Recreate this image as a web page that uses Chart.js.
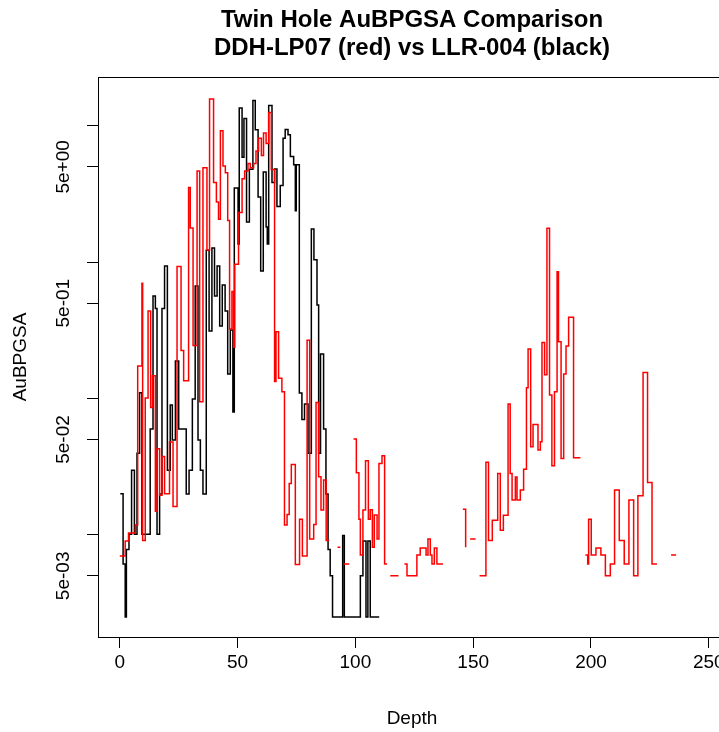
<!DOCTYPE html>
<html><head><meta charset="utf-8">
<script src="https://cdn.jsdelivr.net/npm/chart.js@4.4.1/dist/chart.umd.min.js"></script>
<style>html,body{margin:0;padding:0;overflow:hidden;background:#fff}</style>
</head><body>
<canvas id="c" width="740" height="732"></canvas>
<script>
// DDH-LP07 (red)
const redDepth = [
  0.0, 2.3, 3.7, 6.6, 7.6, 9.4, 9.7, 10.8, 12.0, 13.1, 13.9, 15.1, 15.8, 16.9, 17.9, 19.0, 21.1, 22.6, 24.3, 26.0,
  27.1, 29.2, 29.9, 31.1, 32.8, 33.9, 35.3, 37.0, 38.1, 39.8, 41.0, 41.9, 42.7, 43.8, 44.8, 45.8, 46.6, 47.6, 48.3, 48.8,
  50.4, 51.9, 53.0, 54.4, 55.4, 56.8, 57.8, 58.9, 60.1, 61.0, 62.1, 63.2, 64.3, 65.7, 66.3, 67.4, 68.8, 69.9, 71.0, 71.9,
  72.8, 74.5, 76.3, 77.5, 79.5, 80.6, 82.3, 83.3, 84.4, 85.4, 86.5, 87.6, 88.9,
  90.5,
  92.4, 93.6, 94.3,
  95.0, 97.4, 98.3,
  99.2, 100.4, 101.5, 102.1, 103.2, 104.3, 105.5, 106.3, 107.2, 108.0, 109.2, 110.0, 111.3, 112.4, 113.4, 114.1,
  114.8, 118.3, 119.5,
  120.8, 121.9, 126.1, 127.5, 130.0, 130.8, 131.8, 132.5, 133.5, 134.6, 137.2, 141.0,
  145.6, 146.8, 147.8,
  148.7, 151.0, 151.9,
  152.7, 155.4, 156.5, 158.1, 160.4, 161.5, 162.8, 164.8, 165.7, 166.5, 167.9, 168.6, 170.0, 171.4, 172.6, 173.3,
  174.4, 175.4, 177.5, 178.5, 179.2, 180.3, 181.3, 182.4, 183.4, 184.5, 185.6, 186.2, 187.3, 188.4, 189.4, 190.5,
  192.6, 195.5, 196.5,
  197.6, 198.6, 199.0, 200.1, 202.1, 204.2, 206.1, 208.2, 210.0, 212.0, 214.1, 216.1, 218.1, 219.9, 222.1, 224.0,
  225.9, 228.0, 231.0,
  234.0, 236.1
];
const redAu = [
  0.0070, 0.0090, 0.0103, 0.0118, 0.173, 0.70, 0.0091, 0.101, 0.439, 0.086, 0.147, 0.0149, 0.0427, 0.0195, 0.0375, 0.0200, 0.0479, 0.0161, 0.927, 0.225,
  0.135, 3.52, 1.78, 0.245, 4.66, 0.0947, 4.93, 1.23, 15.7, 3.84, 2.76, 2.06, 9.2, 5.08, 4.52, 2.02, 0.323, 0.61, 0.238, 0.965,
  2.31, 4.09, 4.66, 5.29, 4.93, 5.29, 6.53, 8.11, 6.05, 8.84, 7.42, 12.5, 4.79, 0.133, 0.309, 0.141, 0.112, 0.0118, 0.0141, 0.0238,
  0.0328, 0.00605, 0.0130, 0.0070, 0.267, 0.0093, 0.0119, 0.0933, 0.0267, 0.0152, 0.0252, 0.0091, 0.0091,
  null,
  0.0081, 0.0081, null,
  0.0061, 0.0061, null,
  0.0504, 0.0285, 0.0130, 0.0071, 0.0152, 0.0349, 0.0130, 0.0153, 0.0081, 0.0140, 0.0093, 0.0334, 0.038, 0.0061, 0.0061, null,
  0.0050, 0.0050, null,
  0.0061, 0.0050, 0.0071, 0.0080, 0.0071, 0.0093, 0.0071, 0.0061, 0.0080, 0.0061, 0.0061, null,
  0.0154, 0.0081, null,
  0.0093, 0.0093, null,
  0.0050, 0.034, 0.0091, 0.0128, 0.0282, 0.0108, 0.0139, 0.091, 0.0282, 0.0180, 0.0266, 0.0180, 0.0213, 0.0302, 0.120, 0.231,
  0.0442, 0.0645, 0.0418, 0.0481, 0.257, 0.149, 1.77, 0.106, 0.0321, 0.112, 0.851, 0.261, 0.0363, 0.151, 0.243, 0.394,
  0.0367, 0.0367, null,
  0.0071, 0.0061, 0.0130, 0.0071, 0.0080, 0.0071, 0.0050, 0.0061, 0.0213, 0.0091, 0.0061, 0.0180, 0.0050, 0.0193, 0.155, 0.0242,
  0.0061, 0.0061, null,
  0.0071, 0.0071
];

// LLR-004 (black)
const blackDepth = [
  0.2, 1.4, 2.3, 2.8, 3.9, 5.0, 6.2, 7.3, 8.4, 9.4, 12.9, 14.1, 15.1, 15.8, 16.9, 17.9, 19.0, 20.2, 21.4, 22.3,
  23.6, 25.0, 28.2, 29.4, 30.8, 32.0, 33.2, 34.2, 35.3, 36.7, 37.9, 39.1, 40.2, 41.3, 42.4, 43.5, 44.7, 45.8, 46.9, 48.0,
  48.6, 50.2, 50.7, 51.9, 52.7, 53.8, 55.0, 56.5, 57.5, 58.7, 59.8, 60.9, 62.1, 62.6, 63.2, 64.6, 65.7, 66.7, 68.1, 69.3,
  70.2, 71.4, 72.4, 73.8, 74.5, 74.9, 76.2, 77.3, 78.4, 79.9, 81.3, 82.4, 83.7, 84.4, 85.2, 86.5, 87.5, 88.4, 89.3, 90.3,
  94.6, 95.3, 102.1, 103.2, 104.5, 105.3, 106.3, 110.1
];
const blackAu = [
  0.020, 0.0061, 0.0025, 0.0078, 0.0101, 0.0298, 0.0101, 0.0397, 0.110, 0.0101, 0.0596, 0.565, 0.457, 0.0101, 0.0199, 0.457, 0.938, 0.0298, 0.0895, 0.0495,
  0.188, 0.0596, 0.0199, 0.0298, 0.099, 0.668, 0.0495, 0.0298, 0.0199, 1.22, 0.313, 1.27, 0.565, 0.938, 0.340, 0.680, 0.438, 0.151, 0.318, 0.0795,
  3.5, 1.36, 13.5, 5.88, 11.3, 1.97, 4.8, 15.3, 9.35, 3.01, 0.861, 4.59, 1.81, 1.36, 14.1, 3.84, 4.83, 2.56, 3.65, 8.11,
  9.38, 8.59, 5.95, 5.17, 2.38, 5.17, 0.1096, 0.070, 0.091, 0.0397, 1.75, 1.04, 0.485, 0.0397, 0.212, 0.0596, 0.0199, 0.0078, 0.005, 0.0025,
  0.0099, 0.0025, 0.005, 0.0090, 0.0025, 0.0090, 0.0025, 0.0025
];

const xTickValues = [0, 50, 100, 150, 200, 250];
const yTickValues = [10, 5, 1, 0.5, 0.1, 0.05, 0.01, 0.005];
const yTickText = {5: '5e+00', 0.5: '5e-01', 0.05: '5e-02', 0.005: '5e-03'};
const titleLines = ['Twin Hole AuBPGSA Comparison', 'DDH-LP07 (red) vs LLR-004 (black)'];

function toPoints(d, v) { return d.map((x, i) => ({x: x, y: v[i]})); }

const FONT = "'Liberation Sans', Arial, sans-serif";
Chart.defaults.font.family = FONT;
Chart.defaults.color = '#000';

const boxPlugin = {
  id: 'box',
  afterDraw(chart) {
    const a = chart.chartArea, ctx = chart.ctx;
    ctx.save();
    ctx.strokeStyle = '#000';
    ctx.lineWidth = 1;
    ctx.strokeRect(Math.round(a.left) + 0.5, Math.round(a.top) + 0.5,
      Math.round(a.right - a.left), Math.round(a.bottom - a.top));
    ctx.restore();
  }
};

new Chart(document.getElementById('c'), {
  type: 'line',
  data: {
    datasets: [
      {label: 'DDH-LP07', data: toPoints(redDepth, redAu), borderColor: '#ff0000', borderWidth: 1.5,
       stepped: true, pointRadius: 0, spanGaps: false, fill: false},
      {label: 'LLR-004', data: toPoints(blackDepth, blackAu), borderColor: '#000000', borderWidth: 1.5,
       stepped: true, pointRadius: 0, spanGaps: false, fill: false}
    ]
  },
  options: {
    responsive: false,
    animation: false,
    layout: {padding: {left: 0, right: 14, top: 0, bottom: 0}},
    plugins: {
      legend: {display: false},
      tooltip: {enabled: false},
      title: {display: true, fullSize: false, text: titleLines, color: '#000',
        font: {size: 24, weight: 'bold', lineHeight: '28px'}, padding: {top: 6, bottom: 15}}
    },
    scales: {
      x: {
        type: 'linear', min: -9.25, max: 257.3,
        afterBuildTicks(s) { s.ticks = xTickValues.map(v => ({value: v})); },
        afterFit(s) { s.height = 95; },
        border: {display: false},
        grid: {drawOnChartArea: false, drawTicks: true, tickLength: 11, color: '#000', lineWidth: 1},
        ticks: {font: {size: 19}, color: '#000', padding: 3, maxRotation: 0, autoSkip: false},
        title: {display: true, text: 'Depth', font: {size: 19}, color: '#000', padding: {top: 0, bottom: 2}}
      },
      y: {
        type: 'logarithmic', min: 0.00178, max: 22.8,
        afterBuildTicks(s) { s.ticks = yTickValues.map(v => ({value: v})); },
        afterFit(s) { s.width = 98; },
        border: {display: false},
        grid: {drawOnChartArea: false, drawTicks: true, tickLength: 11, color: '#000', lineWidth: 1},
        ticks: {font: {size: 19}, color: '#000', padding: -3, minRotation: 90, maxRotation: 90,
          crossAlign: 'center', autoSkip: false, callback: (v) => yTickText[v] || ''},
        title: {display: true, text: 'AuBPGSA', font: {size: 19}, color: '#000', padding: {top: 9, bottom: 0}}
      }
    }
  },
  plugins: [boxPlugin]
});
</script>
</body></html>
